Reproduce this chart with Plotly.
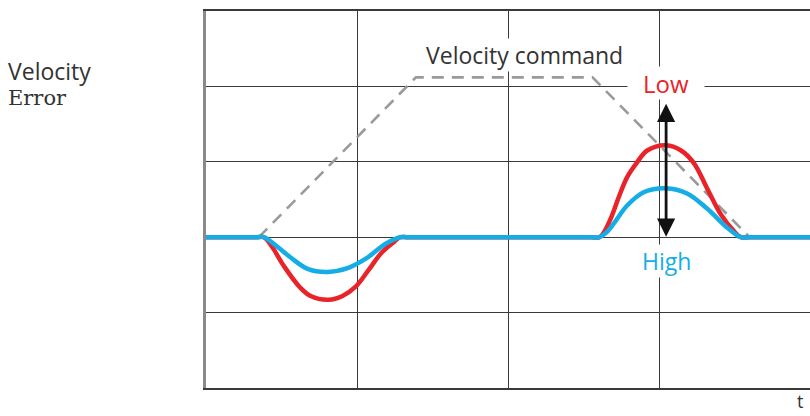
import plotly.graph_objects as go

# Velocity command (grid units: x = time divisions, y = error divisions)
cmd_x = [0.35, 1.39, 2.56, 3.60]
cmd_y = [0.0, 2.12, 2.12, 0.0]

# Low gain (red) velocity error
red_x = [0.0, 0.33, 0.383, 0.435, 0.515, 0.620, 0.693, 0.811, 0.904, 0.989,
         1.075, 1.161, 1.247, 1.286, 1.34,
         2.55, 2.606, 2.64, 2.685, 2.737, 2.79, 2.850, 2.922, 3.047, 3.146,
         3.232, 3.318, 3.410, 3.496, 3.542, 3.60, 4.0]
red_y = [0.0, 0.0, 0.0, -0.12, -0.38, -0.66, -0.78, -0.83, -0.78, -0.66,
         -0.44, -0.21, -0.06, 0.0, 0.0,
         0.0, 0.0, 0.08, 0.27, 0.55, 0.80, 0.98, 1.15, 1.22, 1.15,
         0.98, 0.65, 0.30, 0.08, 0.0, 0.0, 0.0]

# High gain (blue) velocity error
blue_x = [0.0, 0.33, 0.383, 0.475, 0.561, 0.673, 0.805, 0.937, 1.069, 1.187,
          1.286, 1.34,
          2.55, 2.606, 2.65, 2.704, 2.789, 2.902, 3.047, 3.186, 3.318, 3.450,
          3.542, 3.60, 4.0]
blue_y = [0.0, 0.0, 0.0, -0.13, -0.27, -0.42, -0.46, -0.41, -0.27, -0.09,
          0.0, 0.0,
          0.0, 0.0, 0.06, 0.19, 0.42, 0.60, 0.65, 0.58, 0.38, 0.13,
          0.0, 0.0, 0.0]

arrow_x = 3.047
arrow_top = 1.77
arrow_bottom = 0.0

RED = "#E8232A"
BLUE = "#15ADE6"
GRID = "#3a3a3a"
TEXT = "#333333"

fig = go.Figure()
fig.add_trace(go.Scatter(x=cmd_x, y=cmd_y, mode="lines",
                         line=dict(color="#9a9a9a", width=2.6, dash="12px,8px"),
                         hoverinfo="skip"))
fig.add_trace(go.Scatter(x=red_x, y=red_y, mode="lines", line_shape="spline",
                         line=dict(color=RED, width=4.5, smoothing=1),
                         hoverinfo="skip"))
fig.add_trace(go.Scatter(x=blue_x, y=blue_y, mode="lines", line_shape="spline",
                         line=dict(color=BLUE, width=4.5, smoothing=1),
                         hoverinfo="skip"))

font_sans = "Open Sans"

annotations = [
    dict(x=2.111, y=2.41, xref="x", yref="y", text="Velocity command",
         showarrow=False, font=dict(family=font_sans, size=23, color=TEXT),
         bgcolor="white", borderpad=0),
    dict(x=arrow_x, y=2.04, xref="x", yref="y", text="Low", showarrow=False,
         font=dict(family=font_sans, size=24, color=RED), bgcolor="white",
         width=74, height=30),
    dict(x=arrow_x, y=-0.31, xref="x", yref="y", text="High", showarrow=False,
         font=dict(family=font_sans, size=23, color=BLUE), bgcolor="white",
         borderpad=0),
    dict(x=arrow_x, y=arrow_top, ax=arrow_x, ay=arrow_bottom,
         xref="x", yref="y", axref="x", ayref="y", text="", showarrow=True,
         arrowside="end+start", font=dict(size=1), borderpad=0,
         arrowhead=2, arrowsize=1.3, arrowwidth=2.8, arrowcolor="#111111"),
    dict(x=-0.3311, y=0.811, xref="paper", yref="paper",
         text="<span style='font-size:23px'>Velocity</span><br>"
              "<span style='font-family:DejaVu Serif;font-size:21px'>Error</span>",
         xanchor="left", yanchor="middle", align="left", showarrow=False,
         font=dict(family=font_sans, size=19, color=TEXT)),
    dict(x=0.992, y=-0.034, xref="paper", yref="paper", text="t",
         xanchor="right", yanchor="middle", showarrow=False,
         font=dict(family=font_sans, size=18, color=TEXT)),
]

fig.update_layout(
    width=810, height=416,
    margin=dict(l=206, r=0, t=11, b=28),
    paper_bgcolor="white", plot_bgcolor="white",
    showlegend=False,
    annotations=annotations,
    xaxis=dict(range=[0, 4.0], dtick=1, tick0=0, showgrid=True,
               gridcolor=GRID, gridwidth=1.3, showticklabels=False, ticks="",
               zeroline=False, showline=True, mirror=True,
               linecolor=GRID, linewidth=2),
    yaxis=dict(range=[-2, 3], dtick=1, tick0=0, showgrid=True,
               gridcolor=GRID, gridwidth=1.3, showticklabels=False, ticks="",
               zeroline=False, showline=True, mirror=False,
               linecolor="#8a8a8a", linewidth=3),
)

fig.write_html("out.html",
               config={"displayModeBar": False},
               post_script="document.body.style.margin='0';"
                           "document.body.style.overflow='hidden';")
